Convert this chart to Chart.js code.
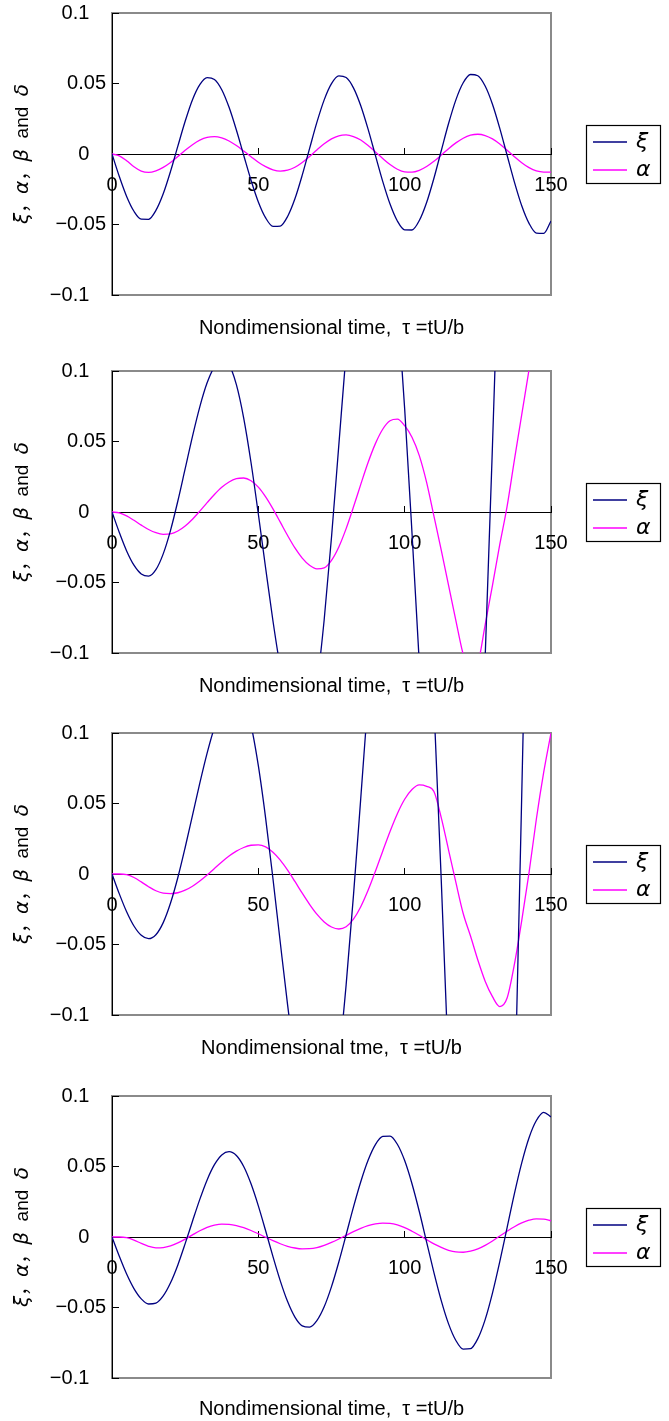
<!DOCTYPE html>
<html>
<head>
<meta charset="utf-8">
<script src="https://cdn.jsdelivr.net/npm/chart.js@4.4.0/dist/chart.umd.min.js"></script>
<style>
  html, body { margin: 0; padding: 0; background: #fff; overflow: hidden; }
  .panel { position: absolute; left: 0; width: 669px; }
</style>
</head>
<body>
<div class="panel" style="top:0px"><canvas id="chart1" width="669" height="350"></canvas></div>
<div class="panel" style="top:358px"><canvas id="chart2" width="669" height="350"></canvas></div>
<div class="panel" style="top:720px"><canvas id="chart3" width="669" height="350"></canvas></div>
<div class="panel" style="top:1083px"><canvas id="chart4" width="669" height="338"></canvas></div>
<script>
// nondimensional time, tau = tU/b
const tau = [0, 2.5, 5, 7.5, 10, 12.5, 15, 17.5, 20, 22.5, 25, 27.5, 30, 32.5, 35, 37.5, 40, 42.5, 45, 47.5,
    50, 52.5, 55, 57.5, 60, 62.5, 65, 67.5, 70, 72.5, 75, 77.5, 80, 82.5, 85, 87.5, 90, 92.5, 95, 97.5,
    100, 102.5, 105, 107.5, 110, 112.5, 115, 117.5, 120, 122.5, 125, 127.5, 130, 132.5, 135, 137.5, 140, 142.5, 145, 147.5, 150];

// panel 1
const xi1 = [0, -0.016, -0.0301, -0.0406, -0.0462, -0.0463, -0.04, -0.0282, -0.0123, 0.0056, 0.0232, 0.0385, 0.0492, 0.0542, 0.0529, 0.0456, 0.0331, 0.017, -0.0009, -0.0186,
    -0.034, -0.0453, -0.0513, -0.0511, -0.0443, -0.0318, -0.015, 0.0038, 0.0224, 0.0384, 0.0499, 0.0554, 0.0542, 0.0469, 0.0342, 0.0176, -0.001, -0.0194, -0.0355, -0.0475,
    -0.0538, -0.0539, -0.0472, -0.0344, -0.0172, 0.0023, 0.0216, 0.0384, 0.0505, 0.0564, 0.0555, 0.0482, 0.0353, 0.0182, -0.0009, -0.0199, -0.0367, -0.0492, -0.0561, -0.0563, -0.0475];
const alpha1 = [0, -0.0013, -0.0048, -0.009, -0.0121, -0.013, -0.0119, -0.0095, -0.006, -0.0018, 0.0026, 0.0066, 0.0098, 0.0118, 0.0123, 0.0114, 0.0092, 0.006, 0.0021, -0.0019,
    -0.0058, -0.009, -0.0112, -0.0121, -0.0115, -0.0094, -0.006, -0.0017, 0.0029, 0.0072, 0.0107, 0.0129, 0.0135, 0.0124, 0.0099, 0.006, 0.0015, -0.0032, -0.0075, -0.0108,
    -0.0127, -0.0129, -0.0116, -0.0089, -0.0052, -0.0008, 0.0038, 0.0079, 0.0112, 0.0133, 0.014, 0.0131, 0.0107, 0.0071, 0.0027, -0.0019, -0.0062, -0.0097, -0.012, -0.0128, -0.0128];

// panel 2
const xi2 = [0, -0.0145, -0.0276, -0.0377, -0.0439, -0.0455, -0.0409, -0.0297, -0.013, 0.0078, 0.0307, 0.0537, 0.0746, 0.0916, 0.103, 0.1079, 0.1044, 0.0903, 0.0666, 0.0351,
    -0.0014, -0.0399, -0.0773, -0.1103, -0.1366, -0.1535, -0.16, -0.1512, -0.1224, -0.0764, -0.0179, 0.0474, 0.1129, 0.1722, 0.2196, 0.2496, 0.26, 0.2471, 0.2094, 0.1499,
    0.0732, -0.0147, -0.107, -0.1963, -0.2758, -0.3396, -0.3815, -0.3995, -0.3856, -0.3282, -0.2316, -0.1033, 0.0471, 0.2073, 0.3649, 0.5077, 0.6245, 0.7062, 0.7464, 0.745, 0.735];
const alpha2 = [0, -0.0007, -0.0028, -0.0059, -0.0093, -0.0124, -0.0147, -0.0158, -0.0155, -0.0135, -0.0099, -0.0051, 0.0006, 0.0066, 0.0124, 0.0175, 0.0213, 0.0236, 0.0241, 0.0222,
    0.0176, 0.0107, 0.0022, -0.0072, -0.0167, -0.0255, -0.0327, -0.0378, -0.0403, -0.0396, -0.0343, -0.0248, -0.0118, 0.0035, 0.0196, 0.0351, 0.0485, 0.0587, 0.0647, 0.0658,
    0.0612, 0.053, 0.04, 0.021, -0.003, -0.027, -0.052, -0.077, -0.101, -0.115, -0.108, -0.08, -0.052, -0.023, 0.004, 0.037, 0.069, 0.101, 0.133, 0.162, 0.188];

// panel 3
const xi3 = [0, -0.0141, -0.0268, -0.0369, -0.0435, -0.0459, -0.0431, -0.0345, -0.0206, -0.0025, 0.0188, 0.0416, 0.0644, 0.0857, 0.104, 0.1181, 0.1269, 0.13, 0.1238, 0.1056,
    0.0768, 0.0395, -0.0034, -0.0486, -0.0928, -0.1327, -0.1652, -0.1878, -0.1995, -0.1942, -0.171, -0.1315, -0.0786, -0.0153, 0.0538, 0.1243, 0.1916, 0.2515, 0.2991, 0.3324,
    0.3485, 0.343, 0.3013, 0.2249, 0.1202, -0.0043, -0.1386, -0.2718, -0.3936, -0.4923, -0.5625, -0.5969, -0.5867, -0.5072, -0.3634, -0.1694, 0.056, 0.2905, 0.5113, 0.6968, 0.8286];
const alpha3 = [0, 0, -0.0005, -0.0025, -0.0056, -0.009, -0.0119, -0.0136, -0.0139, -0.0133, -0.0115, -0.0087, -0.005, -0.0007, 0.0039, 0.0085, 0.0127, 0.0162, 0.0188, 0.0204,
    0.0207, 0.0192, 0.0154, 0.0098, 0.0027, -0.0053, -0.0136, -0.0215, -0.0285, -0.034, -0.0376, -0.039, -0.0374, -0.032, -0.0232, -0.0116, 0.0019, 0.0162, 0.0302, 0.0428,
    0.053, 0.0599, 0.0632, 0.0622, 0.0585, 0.04, 0.017, -0.006, -0.028, -0.044, -0.061, -0.076, -0.087, -0.094, -0.088, -0.064, -0.033, 0.001, 0.039, 0.072, 0.1];

// panel 4
const xi4 = [0, -0.0137, -0.0263, -0.0366, -0.0439, -0.0475, -0.0469, -0.0418, -0.0325, -0.0198, -0.0047, 0.0112, 0.0267, 0.0405, 0.0513, 0.0582, 0.0605, 0.0578, 0.05, 0.0377,
    0.0221, 0.0044, -0.0139, -0.0311, -0.0458, -0.0568, -0.063, -0.0639, -0.0593, -0.0495, -0.0352, -0.0177, 0.0016, 0.0212, 0.0392, 0.0544, 0.0655, 0.0713, 0.0716, 0.0658,
    0.0542, 0.0378, 0.0181, -0.0036, -0.0252, -0.0451, -0.0616, -0.0734, -0.0795, -0.0792, -0.0721, -0.0586, -0.0398, -0.0175, 0.0067, 0.0308, 0.0526, 0.0704, 0.0826, 0.0884, 0.0852];
const alpha4 = [0, 0, -0.0005, -0.0022, -0.0045, -0.0066, -0.0077, -0.0075, -0.0063, -0.0042, -0.0015, 0.0015, 0.0044, 0.0068, 0.0084, 0.0092, 0.009, 0.0081, 0.0066, 0.0046,
    0.0023, -0.0002, -0.0026, -0.0048, -0.0066, -0.0078, -0.0084, -0.0083, -0.0075, -0.0059, -0.0038, -0.0014, 0.0012, 0.0038, 0.0061, 0.008, 0.0093, 0.0099, 0.0097, 0.0086,
    0.0067, 0.0041, 0.0012, -0.0019, -0.0049, -0.0074, -0.0094, -0.0106, -0.0108, -0.01, -0.0084, -0.0059, -0.0028, 0.0007, 0.0041, 0.0073, 0.01, 0.0119, 0.0129, 0.0127, 0.0115];

const seriesNames = ['ξ', 'α'];
const seriesColors = ['#000080', '#ff00ff'];
const xTicks = [0, 50, 100, 150];
const yTicks = [-0.1, -0.05, 0, 0.05, 0.1];
const xTitles = [
    'Nondimensional time,  τ =tU/b',
    'Nondimensional time,  τ =tU/b',
    'Nondimensional tme,  τ =tU/b',
    'Nondimensional time,  τ =tU/b'
];
const yTitleParts = [['ξ', true], ['，', false], ['α', true], ['，', false], ['β', true], ['  and  ', false], ['δ', true]];

const FONT = "'Liberation Sans', 'Noto Sans CJK JP', sans-serif";
const GREEK = "'DejaVu Sans', sans-serif";

Chart.defaults.font.family = FONT;
Chart.defaults.font.size = 20;
Chart.defaults.color = '#000';

// frame, legend box and the y title with italic greek letters
const panelDecor = {
    id: 'panelDecor',
    beforeDraw(chart) {
        const { ctx, chartArea: a } = chart;
        ctx.save();
        ctx.strokeStyle = '#8a8a8a';
        ctx.lineWidth = 2;
        ctx.strokeRect(a.left, a.top, a.right - a.left, a.bottom - a.top);
        ctx.restore();
    },
    afterDraw(chart) {
        const { ctx, chartArea: a } = chart;
        const cy = (a.top + a.bottom) / 2;

        // legend
        const bx = a.right + 35, by = Math.round(cy) - 29, bw = 74, bh = 58;
        ctx.save();
        ctx.fillStyle = '#fff';
        ctx.fillRect(bx, by, bw, bh);
        ctx.strokeStyle = '#000';
        ctx.lineWidth = 1.2;
        ctx.strokeRect(bx + 0.5, by + 0.5, bw, bh);
        chart.data.datasets.forEach((ds, i) => {
            const y = by + 17 + i * 28;
            ctx.strokeStyle = ds.borderColor;
            ctx.lineWidth = 1.5;
            ctx.beginPath();
            ctx.moveTo(bx + 7, y);
            ctx.lineTo(bx + 41, y);
            ctx.stroke();
            ctx.fillStyle = '#000';
            ctx.font = 'italic 22px ' + GREEK;
            ctx.textAlign = 'left';
            ctx.textBaseline = 'middle';
            ctx.fillText(ds.label, bx + 50, y);
        });

        // y axis title
        const fontFor = it => it ? 'italic 20px ' + GREEK : '19px ' + FONT;
        let total = 0;
        yTitleParts.forEach(([t, it]) => { ctx.font = fontFor(it); total += ctx.measureText(t).width; });
        ctx.translate(23, cy);
        ctx.rotate(-Math.PI / 2);
        ctx.textBaseline = 'middle';
        ctx.textAlign = 'left';
        let x = -total / 2;
        yTitleParts.forEach(([t, it]) => {
            ctx.font = fontFor(it);
            ctx.fillText(t, x, 0);
            x += ctx.measureText(t).width;
        });
        ctx.restore();
    }
};

function yLabel(v) {
    const s = String(Math.round(v * 100) / 100).replace('-', '\u2212');
    const r = Math.round(Math.abs(v) * 100);
    return (r === 10 || r === 0) ? s + '   ' : s;
}

function makePanel(canvasId, xi, alpha, xTitle) {
    const canvas = document.getElementById(canvasId);
    const h = canvas.height;
    return new Chart(canvas, {
        type: 'line',
        data: {
            labels: tau,
            datasets: [
                { label: seriesNames[0], data: xi, borderColor: seriesColors[0], borderWidth: 1.3 },
                { label: seriesNames[1], data: alpha, borderColor: seriesColors[1], borderWidth: 1.3 }
            ]
        },
        options: {
            responsive: false,
            animation: false,
            devicePixelRatio: 1,
            layout: { padding: { top: 13, right: 118, left: 0, bottom: 0 } },
            elements: {
                point: { radius: 0 },
                line: { cubicInterpolationMode: 'monotone', fill: false }
            },
            plugins: { legend: { display: false }, tooltip: { enabled: false } },
            scales: {
                x: {
                    type: 'linear',
                    position: { y: 0 },
                    min: 0,
                    max: 150,
                    afterBuildTicks: s => { s.ticks = xTicks.map(v => ({ value: v })); },
                    afterFit: s => { s.height = 0; s.paddingLeft = 0; s.paddingRight = 0; },
                    ticks: { autoSkip: false, maxRotation: 0, padding: 26 },
                    grid: { drawOnChartArea: false, drawTicks: true, tickLength: -7, color: '#000' },
                    border: { color: '#000', width: 1 }
                },
                x2: {
                    type: 'linear',
                    position: 'bottom',
                    min: 0,
                    max: 150,
                    afterFit: s => { s.height = h - 295; },
                    ticks: { display: false },
                    grid: { display: false },
                    border: { display: false },
                    title: { display: true, text: xTitle, padding: { top: 0, bottom: h > 340 ? 10 : 0 } }
                },
                y: {
                    type: 'linear',
                    min: -0.1,
                    max: 0.1,
                    afterBuildTicks: s => { s.ticks = yTicks.map(v => ({ value: v })); },
                    afterFit: s => { s.width = 112; s.paddingTop = 0; s.paddingBottom = 0; },
                    ticks: { padding: 13, callback: yLabel },
                    grid: { drawOnChartArea: false, drawTicks: true, tickLength: -7, color: '#000' },
                    border: { color: '#000', width: 1 }
                }
            }
        },
        plugins: [panelDecor]
    });
}

makePanel('chart1', xi1, alpha1, xTitles[0]);
makePanel('chart2', xi2, alpha2, xTitles[1]);
makePanel('chart3', xi3, alpha3, xTitles[2]);
makePanel('chart4', xi4, alpha4, xTitles[3]);
</script>
</body>
</html>
